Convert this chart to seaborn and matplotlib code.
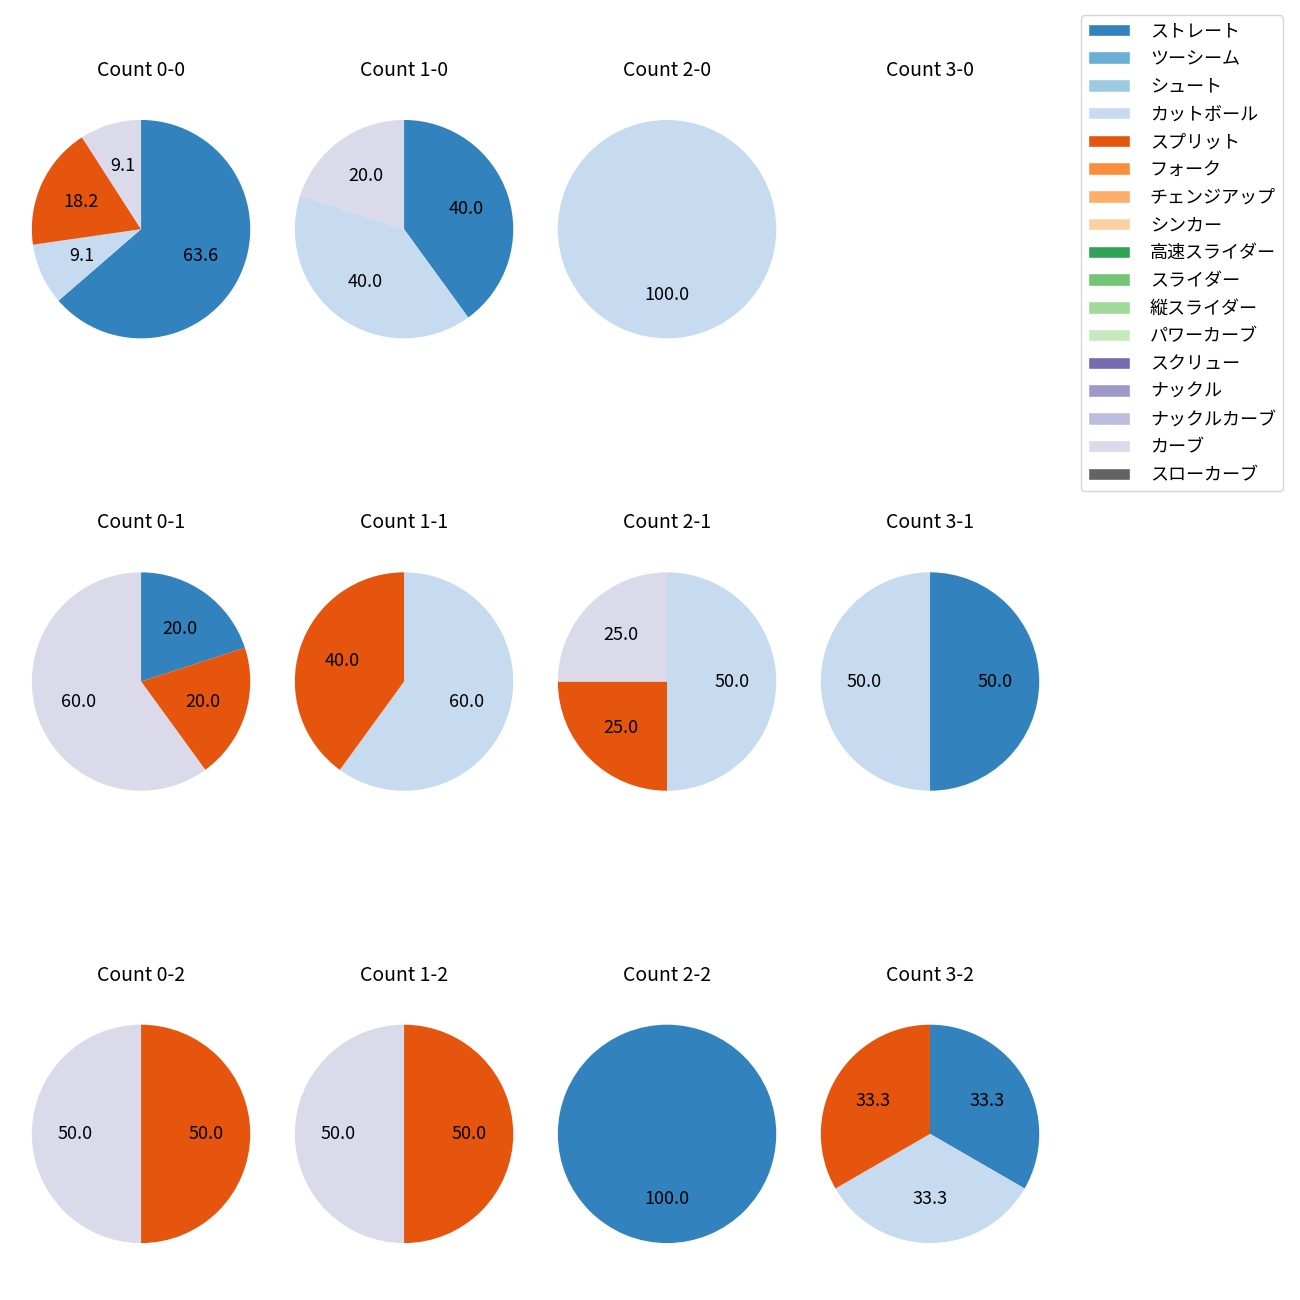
import matplotlib
matplotlib.use("Agg")
import matplotlib.pyplot as plt
import seaborn as sns
from matplotlib.patches import Patch

sns.set_style("white")
plt.rcParams['font.family'] = ['Noto Sans CJK JP', 'DejaVu Sans']
plt.rcParams['text.color'] = 'black'

pitch_types = ["ストレート", "ツーシーム", "シュート", "カットボール", "スプリット", "フォーク",
               "チェンジアップ", "シンカー", "高速スライダー", "スライダー", "縦スライダー",
               "パワーカーブ", "スクリュー", "ナックル", "ナックルカーブ", "カーブ", "スローカーブ"]
colors = sns.color_palette("tab20c", 20)[:17]

count_labels = ["0-0", "1-0", "2-0", "3-0",
                "0-1", "1-1", "2-1", "3-1",
                "0-2", "1-2", "2-2", "3-2"]

# pitch counts per ball-strike count (type -> number of pitches)
count_00 = {"ストレート": 7, "カットボール": 1, "スプリット": 2, "カーブ": 1}
count_10 = {"ストレート": 2, "カットボール": 2, "カーブ": 1}
count_20 = {"カットボール": 1}
count_30 = {}
count_01 = {"ストレート": 1, "スプリット": 1, "カーブ": 3}
count_11 = {"カットボール": 3, "スプリット": 2}
count_21 = {"カットボール": 2, "スプリット": 1, "カーブ": 1}
count_31 = {"ストレート": 1, "カットボール": 1}
count_02 = {"スプリット": 1, "カーブ": 1}
count_12 = {"スプリット": 1, "カーブ": 1}
count_22 = {"ストレート": 1}
count_32 = {"ストレート": 1, "カットボール": 1, "スプリット": 1}

all_counts = [count_00, count_10, count_20, count_30,
              count_01, count_11, count_21, count_31,
              count_02, count_12, count_22, count_32]

fig, axes = plt.subplots(3, 4, figsize=(13, 13), dpi=100)
fig.subplots_adjust(left=0.0035, right=0.8204, wspace=-0.0366,
                    top=0.9392, bottom=0.0123, hspace=0.5067)

for ax, lab, data in zip(axes.flat, count_labels, all_counts):
    ax.set_title(f"Count {lab}", fontsize=14, pad=12, color="black")
    vals = [data[t] for t in pitch_types if data.get(t, 0) > 0]
    cols = [colors[i] for i, t in enumerate(pitch_types) if data.get(t, 0) > 0]
    if vals:
        ax.pie(vals, colors=cols, autopct="%1.1f", startangle=90,
               counterclock=False, textprops={"fontsize": 13, "color": "black"},
               wedgeprops={"linewidth": 0})
    ax.set_aspect("equal")
    ax.axis("off")

handles = [Patch(facecolor=c, label=t) for t, c in zip(pitch_types, colors)]
leg = fig.legend(handles=handles, loc="upper right",
                 bbox_to_anchor=(1283 / 1300, 1 - 15 / 1300),
                 borderaxespad=0, fontsize=13, handlelength=2.3, handletextpad=1.1,
                 labelspacing=0.54, frameon=True)
for t in leg.get_texts():
    t.set_color("black")

fig.savefig("out.png", dpi=100)
